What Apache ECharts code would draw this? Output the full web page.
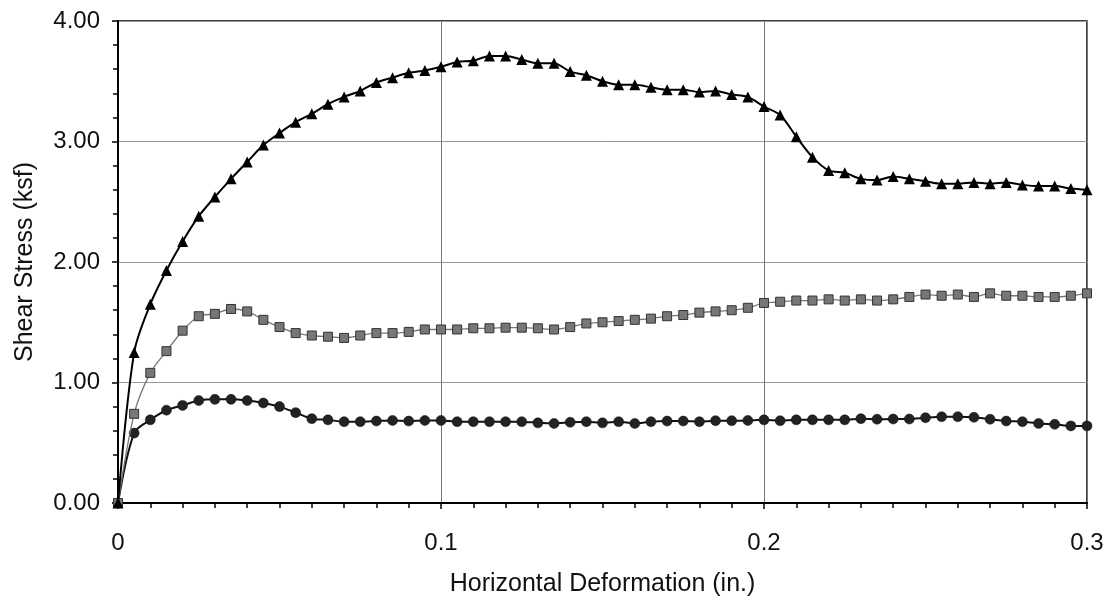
<!DOCTYPE html>
<html>
<head>
<meta charset="utf-8">
<script src="https://cdn.jsdelivr.net/npm/echarts@6/dist/echarts.min.js"></script>
<style>
html,body{margin:0;padding:0;background:#fff;}
#chart{width:1109px;height:605px;}
</style>
</head>
<body>
<div id="chart"></div>
<script>
const xValues = [0,0.005,0.01,0.015,0.02,0.025,0.03,0.035,0.04,0.045,0.05,0.055,0.06,0.065,0.07,0.075,0.08,0.085,0.09,0.095,0.1,0.105,0.11,0.115,0.12,0.125,0.13,0.135,0.14,0.145,0.15,0.155,0.16,0.165,0.17,0.175,0.18,0.185,0.19,0.195,0.2,0.205,0.21,0.215,0.22,0.225,0.23,0.235,0.24,0.245,0.25,0.255,0.26,0.265,0.27,0.275,0.28,0.285,0.29,0.295,0.3];

const triangleSeries = [0,1.25,1.65,1.93,2.17,2.38,2.54,2.69,2.83,2.97,3.07,3.16,3.23,3.31,3.37,3.42,3.49,3.53,3.57,3.59,3.62,3.66,3.67,3.71,3.71,3.68,3.65,3.65,3.58,3.55,3.50,3.47,3.47,3.45,3.43,3.43,3.41,3.42,3.39,3.37,3.29,3.22,3.04,2.87,2.76,2.74,2.69,2.68,2.71,2.69,2.67,2.65,2.65,2.66,2.65,2.66,2.64,2.63,2.63,2.61,2.60];

const squareSeries = [0,0.74,1.08,1.26,1.43,1.55,1.57,1.61,1.59,1.52,1.46,1.41,1.39,1.38,1.37,1.39,1.41,1.41,1.42,1.44,1.44,1.44,1.45,1.45,1.455,1.455,1.45,1.44,1.46,1.49,1.50,1.51,1.52,1.53,1.55,1.56,1.58,1.59,1.60,1.62,1.66,1.67,1.68,1.68,1.69,1.68,1.69,1.68,1.69,1.71,1.73,1.72,1.73,1.71,1.74,1.72,1.72,1.71,1.71,1.72,1.74];

const circleSeries = [0,0.58,0.69,0.77,0.81,0.85,0.86,0.86,0.85,0.83,0.80,0.75,0.70,0.69,0.675,0.675,0.68,0.685,0.68,0.685,0.685,0.675,0.675,0.675,0.675,0.675,0.665,0.66,0.67,0.675,0.665,0.675,0.66,0.675,0.68,0.68,0.675,0.683,0.683,0.685,0.69,0.683,0.69,0.69,0.69,0.69,0.70,0.695,0.697,0.697,0.708,0.716,0.716,0.711,0.695,0.68,0.675,0.66,0.653,0.64,0.64];

const xTickLabels = {0:'0', 0.1:'0.1', 0.2:'0.2', 0.3:'0.3'};

function pairs(ys){ return xValues.map((x,i)=>[x, ys[i]]); }

const FONT = '"Liberation Sans", Arial, sans-serif';
const chart = echarts.init(document.getElementById('chart'), null, {renderer:'canvas'});
chart.setOption({
  animation: false,
  backgroundColor: '#fff',
  grid: {left:118, right:22, top:21, bottom:102, show:true, borderColor:'#000', borderWidth:1.5, backgroundColor:'transparent'},
  xAxis: {
    type:'value', min:0, max:0.3, interval:0.1,
    name:'Horizontal Deformation (in.)', nameLocation:'middle', nameGap:69,
    nameTextStyle:{fontFamily:FONT, fontSize:25, color:'#111'},
    axisLine:{show:true, onZero:false, lineStyle:{color:'#000', width:2}},
    axisTick:{show:true, inside:false, length:6, lineStyle:{color:'#000', width:1.5}},
    minorTick:{show:true, splitNumber:10, length:5, lineStyle:{color:'#000', width:1.5}},
    axisLabel:{margin:28, fontFamily:FONT, fontSize:24, color:'#111', formatter:v=>xTickLabels[Math.round(v*10)/10] ?? String(v)},
    splitLine:{show:true, lineStyle:{color:'#777', width:1}}
  },
  yAxis: {
    type:'value', min:0, max:4, interval:1,
    name:'Shear Stress (ksf)', nameLocation:'middle', nameGap:80,
    nameTextStyle:{fontFamily:FONT, fontSize:25, color:'#111'},
    axisLine:{show:true, onZero:false, lineStyle:{color:'#000', width:2}},
    axisTick:{show:true, inside:false, length:6, lineStyle:{color:'#000', width:1.5}},
    minorTick:{show:true, splitNumber:5, length:5, lineStyle:{color:'#000', width:1.5}},
    axisLabel:{margin:18, fontFamily:FONT, fontSize:24, color:'#111', formatter:v=>v.toFixed(2)},
    splitLine:{show:true, lineStyle:{color:'#999', width:1}}
  },
  series: [
    {
      name:'circles', type:'line', data:pairs(circleSeries), smooth:0.3, clip:false,
      symbol:'circle', symbolSize:10, showAllSymbol:true,
      lineStyle:{color:'#111', width:2},
      itemStyle:{color:'#222', borderColor:'#111', borderWidth:0.5}, z:3
    },
    {
      name:'squares', type:'line', data:pairs(squareSeries), smooth:0.3, clip:false,
      symbol:'rect', symbolSize:9, showAllSymbol:true,
      lineStyle:{color:'#777', width:1.3},
      itemStyle:{color:'#777', borderColor:'#333', borderWidth:1}, z:4
    },
    {
      name:'triangles', type:'line', data:pairs(triangleSeries), smooth:0.3, clip:false,
      symbol:'triangle', symbolSize:11, showAllSymbol:true,
      lineStyle:{color:'#000', width:2},
      itemStyle:{color:'#000'}, z:5
    }
  ]
});
</script>
</body>
</html>
